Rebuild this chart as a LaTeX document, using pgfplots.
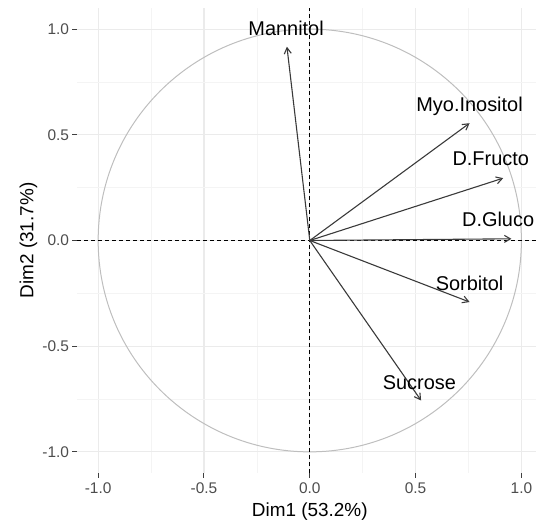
\documentclass[border=0pt]{standalone}
\usepackage{fontspec}
\setmainfont{Liberation Sans}
\usepackage{pgfplots}
\usepackage{pgfplotstable}
\pgfplotsset{compat=1.18}
\usetikzlibrary{arrows.meta}

\definecolor{gridmajor}{HTML}{EBEBEB}
\definecolor{gridminor}{HTML}{F4F4F4}
\definecolor{circlegray}{HTML}{BEBEBE}
\definecolor{ticktext}{HTML}{4D4D4D}
\definecolor{arrowcol}{HTML}{3A3A3A}

% variable coordinates on the first two dimensions, with label positions
\pgfplotstableread{
name x y lx ly
Mannitol -0.108 0.917 -0.112 0.969
Myo.Inositol 0.755 0.555 0.755 0.611
D.Fructo 0.914 0.295 0.855 0.355
D.Gluco 0.953 0.008 0.890 0.066
Sorbitol 0.755 -0.291 0.755 -0.238
Sucrose 0.526 -0.757 0.518 -0.706
}\vars

\begin{document}
\begin{tikzpicture}
\begin{axis}[
  scale only axis,
  width=459bp, height=465bp,
  xmin=-1.1, xmax=1.069, ymin=-1.1, ymax=1.1,
  axis line style={draw=none},
  xtick={-1,-0.5,0,0.5,1},
  ytick={-1,-0.5,0,0.5,1},
  xticklabels={-1.0,-0.5,0.0,0.5,1.0},
  yticklabels={-1.0,-0.5,0.0,0.5,1.0},
  minor xtick={-0.75,-0.25,0.25,0.75},
  minor ytick={-0.75,-0.25,0.25,0.75},
  xtick pos=bottom, ytick pos=left,
  tick align=outside,
  major tick length=4.5bp, minor tick length=0pt,
  major tick style={black!75, line width=1bp},
  grid=both,
  major grid style={gridmajor, line width=1.1bp},
  minor grid style={gridminor, line width=0.6bp},
  tick label style={font=\fontsize{15.5}{18}\selectfont, text=ticktext},
  xticklabel style={yshift=-2bp},
  xlabel={Dim1 (53.2\%)},
  ylabel={Dim2 (31.7\%)},
  label style={font=\fontsize{19}{22}\selectfont},
  xlabel style={at={([yshift=-43.7bp]axis description cs:0.5071,0)}, anchor=base},
  ylabel style={at={([xshift=-43.7bp]axis description cs:0,0.5)}, anchor=base},
  clip mode=individual,
]
% correlation circle
\draw[circlegray, line width=1bp] (axis cs:0,0) ellipse [x radius=1, y radius=1];
% reference lines through the origin
\addplot[black, line width=1.1bp, dash pattern=on 4bp off 3bp] coordinates {(-1.1,0) (1.069,0)};
\addplot[black, line width=1.1bp, dash pattern=on 4bp off 3bp] coordinates {(0,-1.1) (0,1.1)};
% variable arrows
\addplot[arrowcol, line width=1.1bp,
  quiver={u=\thisrow{x}, v=\thisrow{y},
    every arrow/.append style={-{Straight Barb[length=6bp, width=7bp]}}}]
  table[x expr=0, y expr=0] {\vars};
% variable names
\addplot[only marks, mark=none,
  nodes near coords, point meta=explicit symbolic,
  nodes near coords style={anchor=base, inner sep=0pt, font=\fontsize{20}{24}\selectfont, text=black}]
  table[x=lx, y=ly, meta=name] {\vars};
\end{axis}
\pgfresetboundingbox
\useasboundingbox (-77bp,-51bp) rectangle (459bp,473bp);
\end{tikzpicture}
\end{document}
